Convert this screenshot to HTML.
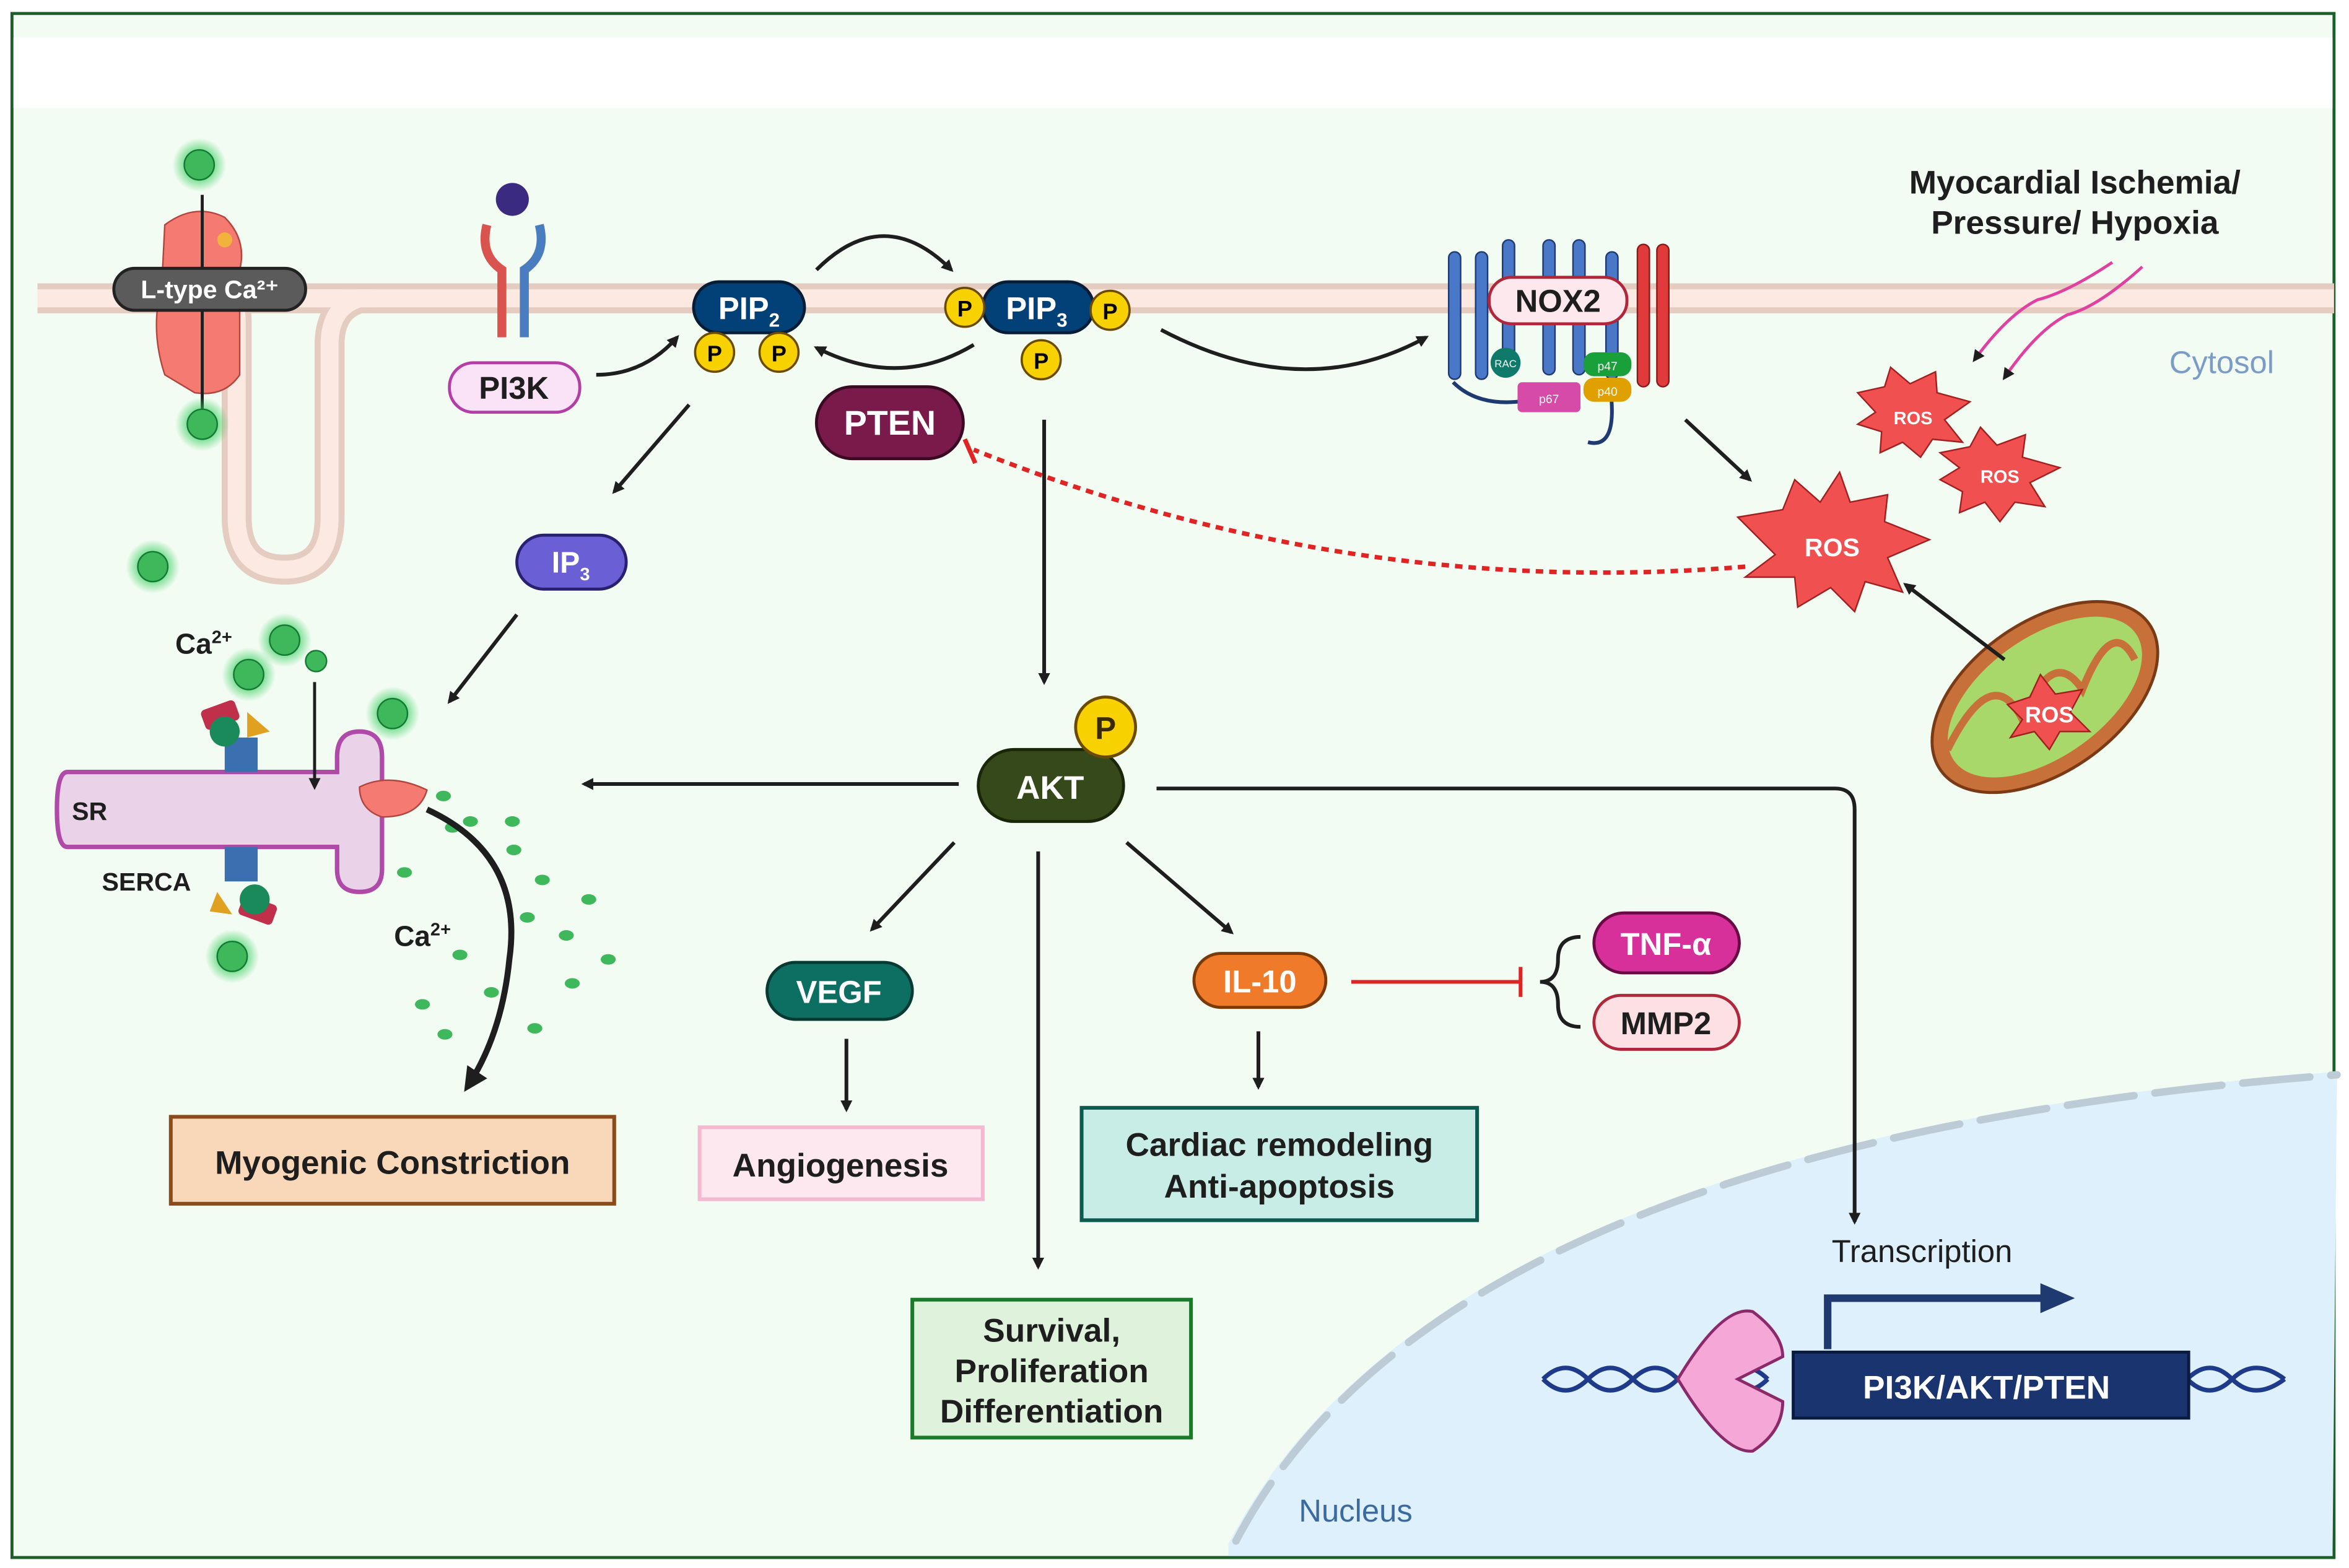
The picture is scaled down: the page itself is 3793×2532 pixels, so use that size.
<!DOCTYPE html>
<html><head><meta charset="utf-8"><style>
html,body{margin:0;padding:0;background:#fff}
svg{display:block}
text{font-family:"Liberation Sans",Arial,sans-serif;font-weight:bold}
text.n{font-weight:normal}
</style></head><body>
<svg width="3793" height="2532" viewBox="0 0 1568 1046" preserveAspectRatio="none" xmlns="http://www.w3.org/2000/svg">
<defs>
<marker id="ah" markerWidth="8" markerHeight="8" refX="6" refY="4" orient="auto" markerUnits="userSpaceOnUse"><path d="M0,0 L8,4 L0,8 Z" fill="#1e1e1e"/></marker>
<marker id="ahb" markerWidth="16" markerHeight="16" refX="12" refY="8" orient="auto" markerUnits="userSpaceOnUse"><path d="M0,0 L16,8 L0,16 Z" fill="#1e1e1e"/></marker>
<radialGradient id="glow"><stop offset="0.55" stop-color="#2ecc55" stop-opacity="0.6"/><stop offset="1" stop-color="#2ecc55" stop-opacity="0"/></radialGradient>
</defs>
<rect x="0" y="0" width="1568" height="1046" fill="#fff"/>
<rect x="8" y="9" width="1550" height="1030" fill="#f3fcf3" stroke="#1d5e2a" stroke-width="2"/>
<rect x="9" y="25" width="1548" height="47" fill="#fff"/>
<!-- nucleus -->
<path d="M820 1030 Q960 760 1560 715 L1557 1038 L820 1038 Z" fill="#def0fb"/>
<path d="M825 1028 Q965 762 1560 717" fill="none" stroke="#bccbd5" stroke-width="5" stroke-dasharray="45 14" stroke-linecap="round"/>
<text class="n" x="867" y="1015" font-size="21" fill="#3b6aa0">Nucleus</text>
<text class="n" x="1448" y="249" font-size="21" fill="#7a9cc6">Cytosol</text>
<!-- membrane -->
<rect x="25" y="189" width="1533" height="20" fill="#fbe9e2"/>
<rect x="25" y="189" width="1533" height="4" fill="#e5ccc0"/>
<rect x="25" y="205" width="1533" height="4" fill="#e5ccc0"/>
<path d="M150 199 Q158 199 158 215 L158 345 Q158 380 190 380 Q220 380 220 345 L220 230 Q220 205 240 199" fill="none" stroke="#e5ccc0" stroke-width="20"/>
<path d="M150 199 Q158 199 158 215 L158 345 Q158 380 190 380 Q220 380 220 345 L220 230 Q220 205 240 199" fill="none" stroke="#fbe9e2" stroke-width="12"/>
<rect x="140" y="193" width="110" height="12" fill="#fbe9e2"/>
<!-- L-type channel -->
<path d="M110 150 Q130 135 150 145 Q165 160 160 180 L160 250 Q150 265 130 262 L110 250 Q100 220 108 190 Z" fill="#f47a72" stroke="#b3453f"/>
<line x1="135" y1="130" x2="135" y2="280" stroke="#1e1e1e" stroke-width="2" marker-end="url(#ah)"/>
<rect x="76" y="179" width="128" height="28" rx="14" fill="#5b5b5b" stroke="#222" stroke-width="2"/>
<text x="140" y="199" font-size="17" fill="#fff" text-anchor="middle">L-type Ca²⁺</text>
<circle cx="150" cy="160" r="5" fill="#f2b33c"/>
<!-- Ca dots -->
<g>
<circle cx="133" cy="110" r="18" fill="url(#glow)"/><circle cx="133" cy="110" r="10" fill="#3fb85c" stroke="#127a32"/>
<circle cx="135" cy="283" r="18" fill="url(#glow)"/><circle cx="135" cy="283" r="10" fill="#3fb85c" stroke="#127a32"/>
<circle cx="102" cy="378" r="18" fill="url(#glow)"/><circle cx="102" cy="378" r="10" fill="#3fb85c" stroke="#127a32"/>
<circle cx="190" cy="427" r="18" fill="url(#glow)"/><circle cx="190" cy="427" r="10" fill="#3fb85c" stroke="#127a32"/>
<circle cx="166" cy="450" r="18" fill="url(#glow)"/><circle cx="166" cy="450" r="10" fill="#3fb85c" stroke="#127a32"/>
<circle cx="211" cy="441" r="7" fill="#3fb85c" stroke="#127a32"/>
<circle cx="262" cy="476" r="18" fill="url(#glow)"/><circle cx="262" cy="476" r="10" fill="#3fb85c" stroke="#127a32"/>
<circle cx="155" cy="638" r="18" fill="url(#glow)"/><circle cx="155" cy="638" r="10" fill="#3fb85c" stroke="#127a32"/>
</g>
<g fill="#3fb85c">
<ellipse cx="296" cy="531" rx="5" ry="3.5"/><ellipse cx="314" cy="548" rx="5" ry="3.5"/><ellipse cx="342" cy="548" rx="5" ry="3.5"/>
<ellipse cx="302" cy="552" rx="5" ry="3.5"/><ellipse cx="343" cy="567" rx="5" ry="3.5"/><ellipse cx="270" cy="582" rx="5" ry="3.5"/>
<ellipse cx="362" cy="587" rx="5" ry="3.5"/><ellipse cx="393" cy="600" rx="5" ry="3.5"/><ellipse cx="352" cy="612" rx="5" ry="3.5"/>
<ellipse cx="378" cy="624" rx="5" ry="3.5"/><ellipse cx="307" cy="637" rx="5" ry="3.5"/><ellipse cx="406" cy="640" rx="5" ry="3.5"/>
<ellipse cx="382" cy="656" rx="5" ry="3.5"/><ellipse cx="328" cy="662" rx="5" ry="3.5"/><ellipse cx="282" cy="670" rx="5" ry="3.5"/>
<ellipse cx="357" cy="686" rx="5" ry="3.5"/><ellipse cx="297" cy="690" rx="5" ry="3.5"/>
</g>
<!-- PI3K receptor -->
<circle cx="342" cy="133" r="11" fill="#3a2a80"/>
<path d="M325 150 Q320 170 335 180 L335 225" fill="none" stroke="#d9534f" stroke-width="6"/>
<path d="M360 150 Q365 170 350 180 L350 225" fill="none" stroke="#4a7cc0" stroke-width="6"/>
<rect x="300" y="242" width="87" height="33" rx="16" fill="#fbe3f7" stroke="#b23ea6" stroke-width="2"/>
<text x="343" y="266" font-size="21" fill="#1e1e1e" text-anchor="middle">PI3K</text>
<path d="M398 250 Q430 250 452 225" fill="none" stroke="#1e1e1e" stroke-width="2.5" marker-end="url(#ah)"/>
<!-- PIP2 -->
<rect x="463" y="188" width="74" height="34" rx="17" fill="#024178" stroke="#071c35" stroke-width="2"/>
<text x="500" y="213" font-size="21" fill="#fff" text-anchor="middle">PIP<tspan font-size="13" dy="5">2</tspan></text>
<circle cx="477" cy="235" r="13" fill="#f8d200" stroke="#6b4b00" stroke-width="1.5"/><text x="477" y="241" font-size="15" text-anchor="middle">P</text>
<circle cx="520" cy="235" r="13" fill="#f8d200" stroke="#6b4b00" stroke-width="1.5"/><text x="520" y="241" font-size="15" text-anchor="middle">P</text>
<path d="M545 180 Q590 135 635 180" fill="none" stroke="#1e1e1e" stroke-width="2.5" marker-end="url(#ah)"/>
<path d="M650 230 Q600 260 545 232" fill="none" stroke="#1e1e1e" stroke-width="2.5" marker-end="url(#ah)"/>
<!-- PIP3 -->
<rect x="656" y="188" width="74" height="34" rx="17" fill="#024178" stroke="#071c35" stroke-width="2"/>
<text x="692" y="213" font-size="21" fill="#fff" text-anchor="middle">PIP<tspan font-size="13" dy="5">3</tspan></text>
<circle cx="644" cy="205" r="13" fill="#f8d200" stroke="#6b4b00" stroke-width="1.5"/><text x="644" y="211" font-size="15" text-anchor="middle">P</text>
<circle cx="741" cy="207" r="13" fill="#f8d200" stroke="#6b4b00" stroke-width="1.5"/><text x="741" y="213" font-size="15" text-anchor="middle">P</text>
<circle cx="695" cy="240" r="13" fill="#f8d200" stroke="#6b4b00" stroke-width="1.5"/><text x="695" y="246" font-size="15" text-anchor="middle">P</text>
<!-- PTEN -->
<rect x="545" y="258" width="98" height="48" rx="24" fill="#7a1a4a" stroke="#3a0a22" stroke-width="2"/>
<text x="594" y="290" font-size="23" fill="#fff" text-anchor="middle">PTEN</text>
<path d="M1165 378 Q900 400 650 300" fill="none" stroke="#e02424" stroke-width="3" stroke-dasharray="5 4"/>
<line x1="644" y1="293" x2="651" y2="309" stroke="#e02424" stroke-width="3"/>
<!-- NOX2 arrow -->
<path d="M775 220 Q870 270 952 225" fill="none" stroke="#1e1e1e" stroke-width="2.5" marker-end="url(#ah)"/>
<!-- NOX2 -->
<g fill="#4a78c8" stroke="#1f3a70" stroke-width="1">
<rect x="967" y="168" width="8" height="85" rx="4"/><rect x="985" y="168" width="8" height="85" rx="4"/><rect x="1003" y="160" width="8" height="90" rx="4"/>
<rect x="1030" y="160" width="8" height="90" rx="4"/><rect x="1050" y="160" width="8" height="90" rx="4"/><rect x="1072" y="168" width="8" height="85" rx="4"/>
</g>
<rect x="1093" y="163" width="8" height="95" rx="4" fill="#e03a3a" stroke="#8a1a1a"/><rect x="1106" y="163" width="8" height="95" rx="4" fill="#e03a3a" stroke="#8a1a1a"/>
<rect x="994" y="185" width="92" height="31" rx="15" fill="#fde8ee" stroke="#b0263a" stroke-width="2"/>
<text x="1040" y="208" font-size="21" fill="#1e1e1e" text-anchor="middle">NOX2</text>
<path d="M970 255 Q990 275 1030 265 M1075 260 Q1080 300 1060 295" fill="none" stroke="#1f3a70" stroke-width="2.5"/>
<circle cx="1005" cy="242" r="10" fill="#0f7a6a"/><text class="n" x="1005" y="245" font-size="7" fill="#fff" text-anchor="middle">RAC</text>
<rect x="1013" y="255" width="42" height="20" rx="3" fill="#d64aa8"/><text class="n" x="1034" y="269" font-size="8" fill="#fff" text-anchor="middle">p67</text>
<rect x="1057" y="235" width="32" height="16" rx="7" fill="#1aa03a"/><text class="n" x="1073" y="247" font-size="8" fill="#fff" text-anchor="middle">p47</text>
<rect x="1057" y="252" width="32" height="16" rx="7" fill="#e0a000"/><text class="n" x="1073" y="264" font-size="8" fill="#fff" text-anchor="middle">p40</text>
<line x1="1125" y1="280" x2="1168" y2="320" stroke="#1e1e1e" stroke-width="2.5" marker-end="url(#ah)"/>
<!-- Ischemia -->
<text x="1385" y="129" font-size="22" fill="#1e1e1e" text-anchor="middle">Myocardial Ischemia/</text>
<text x="1385" y="156" font-size="22" fill="#1e1e1e" text-anchor="middle">Pressure/ Hypoxia</text>
<path d="M1410 175 Q1380 195 1360 200 Q1340 210 1318 240" fill="none" stroke="#e040a0" stroke-width="2" marker-end="url(#ah)"/>
<path d="M1430 178 Q1400 205 1380 210 Q1360 220 1338 252" fill="none" stroke="#e040a0" stroke-width="2" marker-end="url(#ah)"/>
<!-- ROS stars -->
<polygon points="1240,262 1258,258 1262,245 1275,256 1292,248 1293,262 1315,268 1298,280 1310,295 1290,293 1282,305 1270,295 1255,302 1256,288 1240,283 1252,275" fill="#f05050" stroke="#a02020"/>
<text x="1277" y="283" font-size="12" fill="#fff" text-anchor="middle">ROS</text>
<polygon points="1295,302 1315,298 1322,285 1333,297 1352,290 1350,305 1375,312 1355,322 1365,338 1345,335 1335,348 1325,335 1308,342 1310,328 1295,320 1308,312" fill="#f05050" stroke="#a02020"/>
<text x="1335" y="322" font-size="12" fill="#fff" text-anchor="middle">ROS</text>
<polygon points="1160,345 1190,340 1198,320 1215,335 1228,315 1235,335 1260,330 1258,348 1288,360 1260,372 1270,395 1245,388 1238,408 1222,392 1200,405 1198,385 1165,385 1185,370" fill="#f05050" stroke="#a02020"/>
<text x="1223" y="371" font-size="17" fill="#fff" text-anchor="middle">ROS</text>
<!-- mitochondrion -->
<ellipse cx="1365" cy="465" rx="85" ry="50" transform="rotate(-35 1365 465)" fill="#c8703a" stroke="#7a3a15" stroke-width="2"/>
<ellipse cx="1365" cy="465" rx="74" ry="40" transform="rotate(-35 1365 465)" fill="#a8d86a"/>
<path d="M1300 500 Q1330 440 1350 480 Q1370 430 1390 460 Q1410 410 1425 440" fill="none" stroke="#c8703a" stroke-width="5"/>
<polygon points="1340,470 1355,465 1362,450 1372,463 1390,460 1382,475 1395,488 1375,488 1368,500 1358,488 1342,492 1350,480" fill="#f05050" stroke="#a02020"/>
<text x="1368" y="482" font-size="15" fill="#fff" text-anchor="middle">ROS</text>
<line x1="1338" y1="440" x2="1272" y2="390" stroke="#1e1e1e" stroke-width="2.5" marker-end="url(#ah)"/>
<!-- IP3 -->
<line x1="460" y1="270" x2="410" y2="328" stroke="#1e1e1e" stroke-width="2.5" marker-end="url(#ah)"/>
<rect x="345" y="357" width="73" height="36" rx="18" fill="#6a5fd4" stroke="#2a2070" stroke-width="2"/>
<text x="381" y="382" font-size="20" fill="#fff" text-anchor="middle">IP<tspan font-size="12" dy="5">3</tspan></text>
<line x1="345" y1="410" x2="300" y2="468" stroke="#1e1e1e" stroke-width="2.5" marker-end="url(#ah)"/>
<!-- SR -->
<path d="M45 515 L225 515 L225 505 Q225 488 240 488 Q255 488 255 505 L255 580 Q255 595 240 595 Q225 595 225 580 L225 565 L45 565 Q38 565 38 540 Q38 515 45 515 Z" fill="#ead3e8" stroke="#b04aa8" stroke-width="3"/>
<text x="48" y="547" font-size="17" fill="#1e1e1e">SR</text>
<text x="68" y="594" font-size="17" fill="#1e1e1e">SERCA</text>
<text x="117" y="436" font-size="19" fill="#1e1e1e">Ca<tspan font-size="12" dy="-7">2+</tspan></text>
<text x="263" y="631" font-size="19" fill="#1e1e1e">Ca<tspan font-size="12" dy="-7">2+</tspan></text>
<rect x="150" y="492" width="22" height="23" fill="#3a70b0"/>
<rect x="150" y="565" width="22" height="23" fill="#3a70b0"/>
<rect x="135" y="470" width="24" height="14" rx="3" fill="#c0304a" transform="rotate(-20 147 477)"/>
<circle cx="150" cy="488" r="10" fill="#1a8a5a"/><polygon points="165,475 180,488 165,492" fill="#e0a020"/>
<rect x="160" y="600" width="24" height="14" rx="3" fill="#c0304a" transform="rotate(20 172 607)"/>
<circle cx="170" cy="600" r="10" fill="#1a8a5a"/><polygon points="145,595 155,610 140,608" fill="#e0a020"/>
<line x1="210" y1="455" x2="210" y2="525" stroke="#1e1e1e" stroke-width="2" marker-end="url(#ah)"/>
<path d="M240 525 Q260 515 285 527 Q280 545 255 545 Q240 540 240 525 Z" fill="#f47a72" stroke="#b3453f"/>
<path d="M285 540 Q350 570 340 640 Q335 690 312 725" fill="none" stroke="#1e1e1e" stroke-width="4" marker-end="url(#ahb)"/>
<rect x="114" y="745" width="296" height="58" fill="#f8d8b8" stroke="#8a4a1a" stroke-width="2.5"/>
<text x="262" y="783" font-size="22" fill="#1e1e1e" text-anchor="middle">Myogenic Constriction</text>
<!-- AKT -->
<line x1="697" y1="280" x2="697" y2="455" stroke="#1e1e1e" stroke-width="2.5" marker-end="url(#ah)"/>
<rect x="653" y="500" width="97" height="48" rx="24" fill="#36491a" stroke="#1a2608" stroke-width="2"/>
<text x="701" y="533" font-size="22" fill="#fff" text-anchor="middle">AKT</text>
<circle cx="738" cy="485" r="20" fill="#f8d200" stroke="#6b4b00" stroke-width="2"/><text x="738" y="493" font-size="21" text-anchor="middle" fill="#3a2a00">P</text>
<line x1="640" y1="523" x2="390" y2="523" stroke="#1e1e1e" stroke-width="2.5" marker-end="url(#ah)"/>
<path d="M772 526 L1225 526 Q1238 526 1238 540 L1238 815" fill="none" stroke="#1e1e1e" stroke-width="2.5" marker-end="url(#ah)"/>
<line x1="637" y1="562" x2="582" y2="620" stroke="#1e1e1e" stroke-width="2.5" marker-end="url(#ah)"/>
<line x1="693" y1="568" x2="693" y2="845" stroke="#1e1e1e" stroke-width="2.5" marker-end="url(#ah)"/>
<line x1="752" y1="562" x2="822" y2="622" stroke="#1e1e1e" stroke-width="2.5" marker-end="url(#ah)"/>
<!-- VEGF -->
<rect x="512" y="642" width="97" height="38" rx="19" fill="#0d6e62" stroke="#063a33" stroke-width="2"/>
<text x="560" y="669" font-size="21" fill="#fff" text-anchor="middle">VEGF</text>
<line x1="565" y1="693" x2="565" y2="740" stroke="#1e1e1e" stroke-width="2.5" marker-end="url(#ah)"/>
<rect x="467" y="752" width="189" height="48" fill="#fde8f0" stroke="#f5b8d0" stroke-width="2.5"/>
<text x="561" y="785" font-size="22" fill="#1e1e1e" text-anchor="middle">Angiogenesis</text>
<!-- IL-10 -->
<rect x="797" y="636" width="88" height="36" rx="18" fill="#ef7a2a" stroke="#7a3a08" stroke-width="2"/>
<text x="841" y="662" font-size="21" fill="#fff" text-anchor="middle">IL-10</text>
<line x1="840" y1="688" x2="840" y2="725" stroke="#1e1e1e" stroke-width="2.5" marker-end="url(#ah)"/>
<rect x="722" y="739" width="264" height="75" fill="#c8ece6" stroke="#0d5a50" stroke-width="2.5"/>
<text x="854" y="771" font-size="22" fill="#1e1e1e" text-anchor="middle">Cardiac remodeling</text>
<text x="854" y="799" font-size="22" fill="#1e1e1e" text-anchor="middle">Anti-apoptosis</text>
<line x1="902" y1="655" x2="1015" y2="655" stroke="#e02424" stroke-width="2.5"/>
<line x1="1015" y1="645" x2="1015" y2="665" stroke="#e02424" stroke-width="2.5"/>
<path d="M1055 625 Q1040 625 1040 640 Q1040 655 1028 655 Q1040 655 1040 670 Q1040 685 1055 685" fill="none" stroke="#1e1e1e" stroke-width="2.5"/>
<rect x="1064" y="609" width="97" height="40" rx="20" fill="#d8309a" stroke="#6a0a44" stroke-width="2"/>
<text x="1112" y="637" font-size="21" fill="#fff" text-anchor="middle">TNF-α</text>
<rect x="1064" y="664" width="97" height="36" rx="18" fill="#fde0e3" stroke="#b0263a" stroke-width="2"/>
<text x="1112" y="690" font-size="21" fill="#1e1e1e" text-anchor="middle">MMP2</text>
<!-- Survival -->
<rect x="609" y="867" width="186" height="92" fill="#dff3dc" stroke="#1a7a2a" stroke-width="2.5"/>
<text x="702" y="895" font-size="22" fill="#1e1e1e" text-anchor="middle">Survival,</text>
<text x="702" y="922" font-size="22" fill="#1e1e1e" text-anchor="middle">Proliferation</text>
<text x="702" y="949" font-size="22" fill="#1e1e1e" text-anchor="middle">Differentiation</text>
<!-- Transcription -->
<text class="n" x="1283" y="842" font-size="21" fill="#1e1e1e" text-anchor="middle">Transcription</text>
<path d="M1220 900 L1220 866 L1365 866" fill="none" stroke="#1e3a70" stroke-width="5"/>
<polygon points="1362,856 1385,866 1362,876" fill="#1e3a70"/>
<path d="M1030 920 Q1045 905 1060 920 T1090 920 T1120 920 T1150 920 T1180 920 M1030 920 Q1045 935 1060 920 T1090 920 T1120 920 T1150 920 T1180 920" fill="none" stroke="#1e3a8a" stroke-width="3"/>
<path d="M1460 920 Q1475 905 1490 920 T1525 920 M1460 920 Q1475 935 1490 920 T1525 920" fill="none" stroke="#1e3a8a" stroke-width="3"/>
<path d="M1170 875 Q1190 890 1190 905 L1160 920 L1190 935 Q1190 955 1170 968 Q1150 970 1120 920 Q1150 870 1170 875 Z" fill="#f5a8d8" stroke="#8a2a6a" stroke-width="2"/>
<rect x="1197" y="902" width="264" height="44" fill="#1a3470" stroke="#0a1a40" stroke-width="2"/>
<text x="1326" y="933" font-size="22" fill="#fff" text-anchor="middle">PI3K/AKT/PTEN</text>
</svg>
</body></html>
